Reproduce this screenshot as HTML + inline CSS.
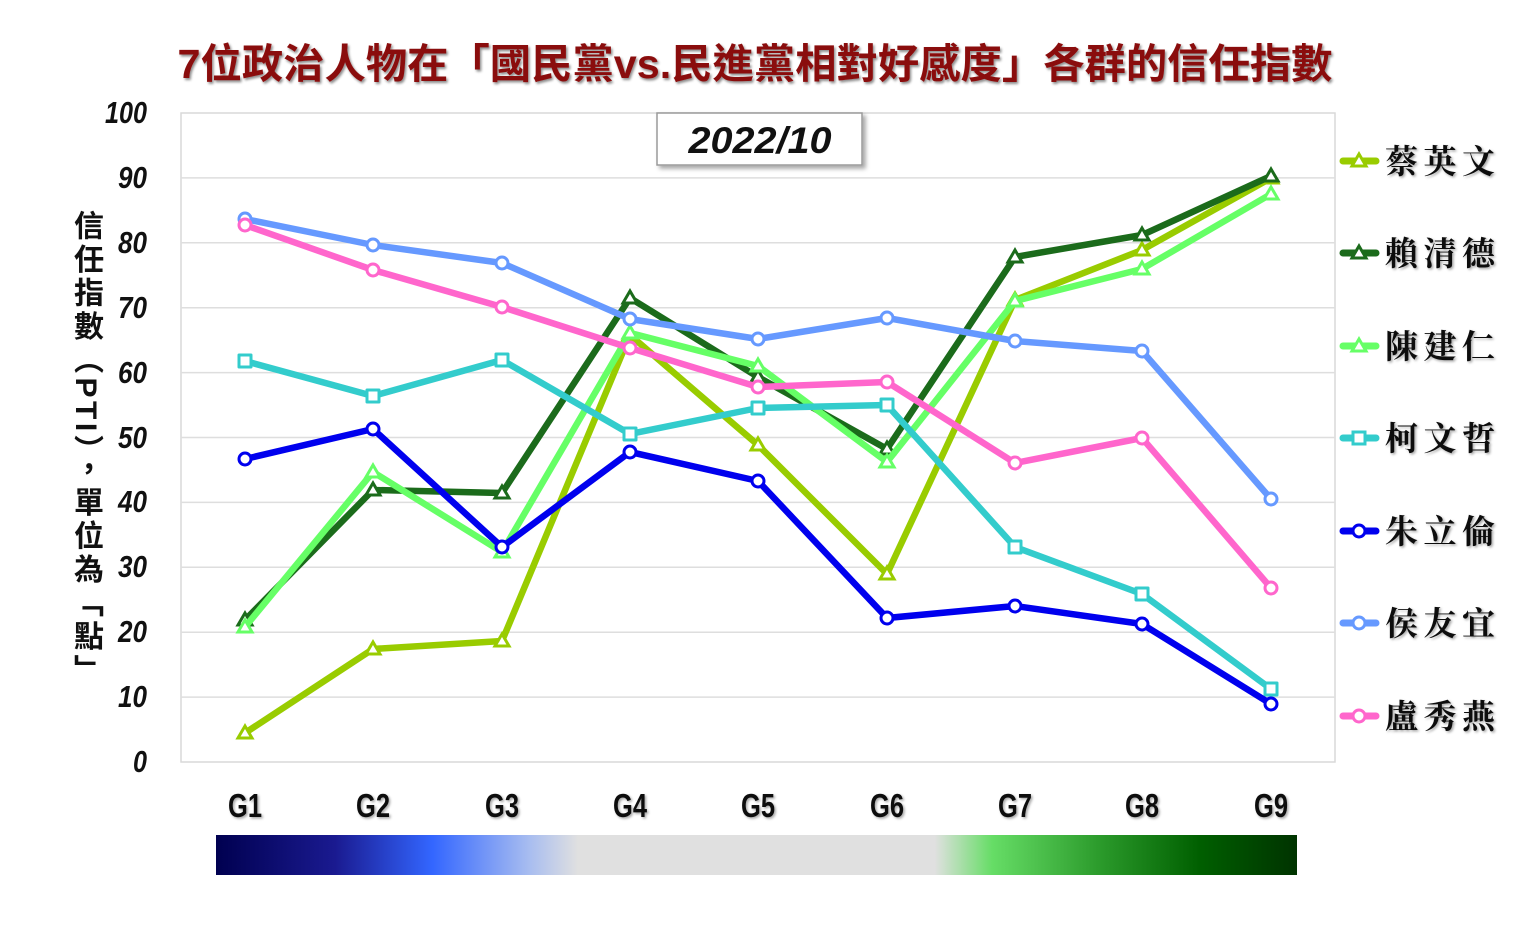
<!DOCTYPE html>
<html>
<head>
<meta charset="utf-8">
<style>
html,body{margin:0;padding:0;background:#fff;}
#wrap{position:relative;width:1536px;height:940px;overflow:hidden;background:#fff;}
svg{position:absolute;left:0;top:0;}
#ylab{position:absolute;left:69px;top:210px;writing-mode:vertical-rl;font-family:"Liberation Sans","Noto Sans CJK TC",sans-serif;font-weight:bold;font-size:30px;line-height:32px;letter-spacing:3.5px;color:#111;}
</style>
</head>
<body>
<div id="wrap">
<svg width="1536" height="940" viewBox="0 0 1536 940" xmlns="http://www.w3.org/2000/svg">
<defs>
<filter id="ts" x="-5%" y="-20%" width="110%" height="150%">
<feDropShadow dx="1.5" dy="2" stdDeviation="1.2" flood-color="#000" flood-opacity="0.45"/>
</filter>
<filter id="ts2" x="-5%" y="-20%" width="110%" height="150%">
<feDropShadow dx="1.5" dy="1.5" stdDeviation="1.2" flood-color="#000" flood-opacity="0.35"/>
</filter>
<filter id="bs" x="-5%" y="-20%" width="115%" height="150%">
<feDropShadow dx="3" dy="3" stdDeviation="2" flood-color="#000" flood-opacity="0.35"/>
</filter>
<linearGradient id="gbar" x1="0" y1="0" x2="1" y2="0">
<stop offset="0" stop-color="#000050"/>
<stop offset="0.11" stop-color="#1a1a90"/>
<stop offset="0.2" stop-color="#3366ff"/>
<stop offset="0.29" stop-color="#a8bdf0"/>
<stop offset="0.335" stop-color="#e0e0e0"/>
<stop offset="0.665" stop-color="#e0e0e0"/>
<stop offset="0.718" stop-color="#66dd66"/>
<stop offset="0.82" stop-color="#2a992a"/>
<stop offset="0.91" stop-color="#005f00"/>
<stop offset="1" stop-color="#003300"/>
</linearGradient>
</defs>

<!-- Title -->
<text x="755" y="78" text-anchor="middle" textLength="1155" lengthAdjust="spacingAndGlyphs" font-family="'Liberation Sans','Noto Sans CJK TC',sans-serif" font-weight="bold" font-size="41" fill="#8a1010" filter="url(#ts)">7位政治人物在「國民黨vs.民進黨相對好感度」各群的信任指數</text>

<!-- plot area -->
<rect x="181" y="113" width="1154" height="649" fill="#fff" stroke="#d9d9d9" stroke-width="1.5"/>
<g stroke="#dedede" stroke-width="1.5">
<line x1="181" y1="697.1" x2="1335" y2="697.1"/>
<line x1="181" y1="632.2" x2="1335" y2="632.2"/>
<line x1="181" y1="567.3" x2="1335" y2="567.3"/>
<line x1="181" y1="502.4" x2="1335" y2="502.4"/>
<line x1="181" y1="437.5" x2="1335" y2="437.5"/>
<line x1="181" y1="372.6" x2="1335" y2="372.6"/>
<line x1="181" y1="307.7" x2="1335" y2="307.7"/>
<line x1="181" y1="242.8" x2="1335" y2="242.8"/>
<line x1="181" y1="177.9" x2="1335" y2="177.9"/>
</g>

<!-- y tick labels -->
<g font-family="'Liberation Sans',sans-serif" font-weight="bold" font-style="italic" font-size="31" fill="#111" text-anchor="end">
<text x="147" y="123" textLength="42" lengthAdjust="spacingAndGlyphs">100</text>
<text x="147" y="188" textLength="29" lengthAdjust="spacingAndGlyphs">90</text>
<text x="147" y="253" textLength="29" lengthAdjust="spacingAndGlyphs">80</text>
<text x="147" y="318" textLength="29" lengthAdjust="spacingAndGlyphs">70</text>
<text x="147" y="383" textLength="29" lengthAdjust="spacingAndGlyphs">60</text>
<text x="147" y="448" textLength="29" lengthAdjust="spacingAndGlyphs">50</text>
<text x="147" y="512" textLength="29" lengthAdjust="spacingAndGlyphs">40</text>
<text x="147" y="577" textLength="29" lengthAdjust="spacingAndGlyphs">30</text>
<text x="147" y="642" textLength="29" lengthAdjust="spacingAndGlyphs">20</text>
<text x="147" y="707" textLength="29" lengthAdjust="spacingAndGlyphs">10</text>
<text x="147" y="772" textLength="14" lengthAdjust="spacingAndGlyphs">0</text>
</g>

<!-- x labels -->
<g font-family="'Liberation Sans',sans-serif" font-weight="bold" font-size="33" fill="#111" text-anchor="middle" filter="url(#ts2)">
<text x="245" y="817" textLength="34" lengthAdjust="spacingAndGlyphs">G1</text>
<text x="373" y="817" textLength="34" lengthAdjust="spacingAndGlyphs">G2</text>
<text x="502" y="817" textLength="34" lengthAdjust="spacingAndGlyphs">G3</text>
<text x="630" y="817" textLength="34" lengthAdjust="spacingAndGlyphs">G4</text>
<text x="758" y="817" textLength="34" lengthAdjust="spacingAndGlyphs">G5</text>
<text x="887" y="817" textLength="34" lengthAdjust="spacingAndGlyphs">G6</text>
<text x="1015" y="817" textLength="34" lengthAdjust="spacingAndGlyphs">G7</text>
<text x="1142" y="817" textLength="34" lengthAdjust="spacingAndGlyphs">G8</text>
<text x="1271" y="817" textLength="34" lengthAdjust="spacingAndGlyphs">G9</text>
</g>

<!-- gradient bar -->
<rect x="216" y="835" width="1081" height="40" fill="url(#gbar)"/>

<!-- date box -->
<rect x="657" y="113" width="205" height="52" fill="#fff" stroke="#9a9a9a" stroke-width="1.5" filter="url(#bs)"/>
<text x="760" y="153" text-anchor="middle" textLength="143" lengthAdjust="spacingAndGlyphs" font-family="'Liberation Sans',sans-serif" font-weight="bold" font-style="italic" font-size="37" fill="#111">2022/10</text>

<!-- series -->
<g fill="none" stroke-width="6.5" stroke-linejoin="round" stroke-linecap="round">
<!-- 蔡英文 -->
<polyline stroke="#99cc00" points="245,733 373,649 502,641 630,335 758,445 887,574 1015,300 1142,250 1271,178"/>
<g stroke="#99cc00" stroke-width="3" fill="#fff" stroke-linejoin="miter">
<polygon points="245,726 252,738 238,738"/><polygon points="373,642 380,654 366,654"/><polygon points="502,634 509,646 495,646"/><polygon points="630,328 637,340 623,340"/><polygon points="758,438 765,450 751,450"/><polygon points="887,567 894,579 880,579"/><polygon points="1015,293 1022,305 1008,305"/><polygon points="1142,243 1149,255 1135,255"/><polygon points="1271,171 1278,183 1264,183"/>
</g>
<!-- 賴清德 -->
<polyline stroke="#1b6b1b" points="245,620 373,490 502,493 630,298 758,377 887,449 1015,257 1142,235 1271,176"/>
<g stroke="#1b6b1b" stroke-width="3" fill="#fff" stroke-linejoin="miter">
<polygon points="245,613 252,625 238,625"/><polygon points="373,483 380,495 366,495"/><polygon points="502,486 509,498 495,498"/><polygon points="630,291 637,303 623,303"/><polygon points="758,370 765,382 751,382"/><polygon points="887,442 894,454 880,454"/><polygon points="1015,250 1022,262 1008,262"/><polygon points="1142,228 1149,240 1135,240"/><polygon points="1271,169 1278,181 1264,181"/>
</g>
<!-- 陳建仁 -->
<polyline stroke="#66ff66" points="245,627 373,472 502,552 630,333 758,366 887,462 1015,301 1142,269 1271,194"/>
<g stroke="#66ff66" stroke-width="3" fill="#fff" stroke-linejoin="miter">
<polygon points="245,620 252,632 238,632"/><polygon points="373,465 380,477 366,477"/><polygon points="502,545 509,557 495,557"/><polygon points="630,326 637,338 623,338"/><polygon points="758,359 765,371 751,371"/><polygon points="887,455 894,467 880,467"/><polygon points="1015,294 1022,306 1008,306"/><polygon points="1142,262 1149,274 1135,274"/><polygon points="1271,187 1278,199 1264,199"/>
</g>
<!-- 柯文哲 -->
<polyline stroke="#33cccc" points="245,361 373,396 502,360 630,434 758,408 887,405 1015,547 1142,594 1271,689"/>
<g stroke="#33cccc" stroke-width="3" fill="#fff">
<rect x="239" y="355" width="12" height="12"/><rect x="367" y="390" width="12" height="12"/><rect x="496" y="354" width="12" height="12"/><rect x="624" y="428" width="12" height="12"/><rect x="752" y="402" width="12" height="12"/><rect x="881" y="399" width="12" height="12"/><rect x="1009" y="541" width="12" height="12"/><rect x="1136" y="588" width="12" height="12"/><rect x="1265" y="683" width="12" height="12"/>
</g>
<!-- 朱立倫 -->
<polyline stroke="#0000ee" points="245,459 373,429 502,547 630,452 758,481 887,618 1015,606 1142,624 1271,704"/>
<g stroke="#0000ee" stroke-width="3" fill="#fff">
<circle cx="245" cy="459" r="6"/><circle cx="373" cy="429" r="6"/><circle cx="502" cy="547" r="6"/><circle cx="630" cy="452" r="6"/><circle cx="758" cy="481" r="6"/><circle cx="887" cy="618" r="6"/><circle cx="1015" cy="606" r="6"/><circle cx="1142" cy="624" r="6"/><circle cx="1271" cy="704" r="6"/>
</g>
<!-- 侯友宜 -->
<polyline stroke="#6699ff" points="245,219 373,245 502,263 630,319 758,339 887,318 1015,341 1142,351 1271,499"/>
<g stroke="#6699ff" stroke-width="3" fill="#fff">
<circle cx="245" cy="219" r="6"/><circle cx="373" cy="245" r="6"/><circle cx="502" cy="263" r="6"/><circle cx="630" cy="319" r="6"/><circle cx="758" cy="339" r="6"/><circle cx="887" cy="318" r="6"/><circle cx="1015" cy="341" r="6"/><circle cx="1142" cy="351" r="6"/><circle cx="1271" cy="499" r="6"/>
</g>
<!-- 盧秀燕 -->
<polyline stroke="#ff66cc" points="245,225 373,270 502,307 630,348 758,387 887,382 1015,463 1142,438 1271,588"/>
<g stroke="#ff66cc" stroke-width="3" fill="#fff">
<circle cx="245" cy="225" r="6"/><circle cx="373" cy="270" r="6"/><circle cx="502" cy="307" r="6"/><circle cx="630" cy="348" r="6"/><circle cx="758" cy="387" r="6"/><circle cx="887" cy="382" r="6"/><circle cx="1015" cy="463" r="6"/><circle cx="1142" cy="438" r="6"/><circle cx="1271" cy="588" r="6"/>
</g>
</g>

<!-- legend markers -->
<g stroke-width="7" stroke-linecap="round">
<line x1="1343" y1="161" x2="1376" y2="161" stroke="#99cc00"/>
<line x1="1343" y1="253" x2="1376" y2="253" stroke="#1b6b1b"/>
<line x1="1343" y1="346" x2="1376" y2="346" stroke="#66ff66"/>
<line x1="1343" y1="438" x2="1376" y2="438" stroke="#33cccc"/>
<line x1="1343" y1="531" x2="1376" y2="531" stroke="#0000ee"/>
<line x1="1343" y1="623" x2="1376" y2="623" stroke="#6699ff"/>
<line x1="1343" y1="716" x2="1376" y2="716" stroke="#ff66cc"/>
</g>
<g stroke-width="3" fill="#fff" stroke-linejoin="miter">
<polygon points="1359,154 1366,166 1352,166" stroke="#99cc00"/>
<polygon points="1359,246 1366,258 1352,258" stroke="#1b6b1b"/>
<polygon points="1359,339 1366,351 1352,351" stroke="#66ff66"/>
<rect x="1353" y="432" width="12" height="12" stroke="#33cccc"/>
<circle cx="1359" cy="531" r="6" stroke="#0000ee"/>
<circle cx="1359" cy="623" r="6" stroke="#6699ff"/>
<circle cx="1359" cy="716" r="6" stroke="#ff66cc"/>
</g>

<!-- legend text -->
<g font-family="'Liberation Serif','Noto Serif CJK SC','Noto Serif CJK TC',serif" font-weight="bold" font-size="33" fill="#111" filter="url(#ts2)">
<text x="1385" y="173" textLength="110" lengthAdjust="spacing">蔡英文</text>
<text x="1385" y="265" textLength="110" lengthAdjust="spacing">賴清德</text>
<text x="1385" y="358" textLength="110" lengthAdjust="spacing">陳建仁</text>
<text x="1385" y="450" textLength="110" lengthAdjust="spacing">柯文哲</text>
<text x="1385" y="543" textLength="110" lengthAdjust="spacing">朱立倫</text>
<text x="1385" y="635" textLength="110" lengthAdjust="spacing">侯友宜</text>
<text x="1385" y="728" textLength="110" lengthAdjust="spacing">盧秀燕</text>
</g>
</svg>
<div id="ylab">信任指數（PTI），單位為「點」</div>
</div>
</body>
</html>
